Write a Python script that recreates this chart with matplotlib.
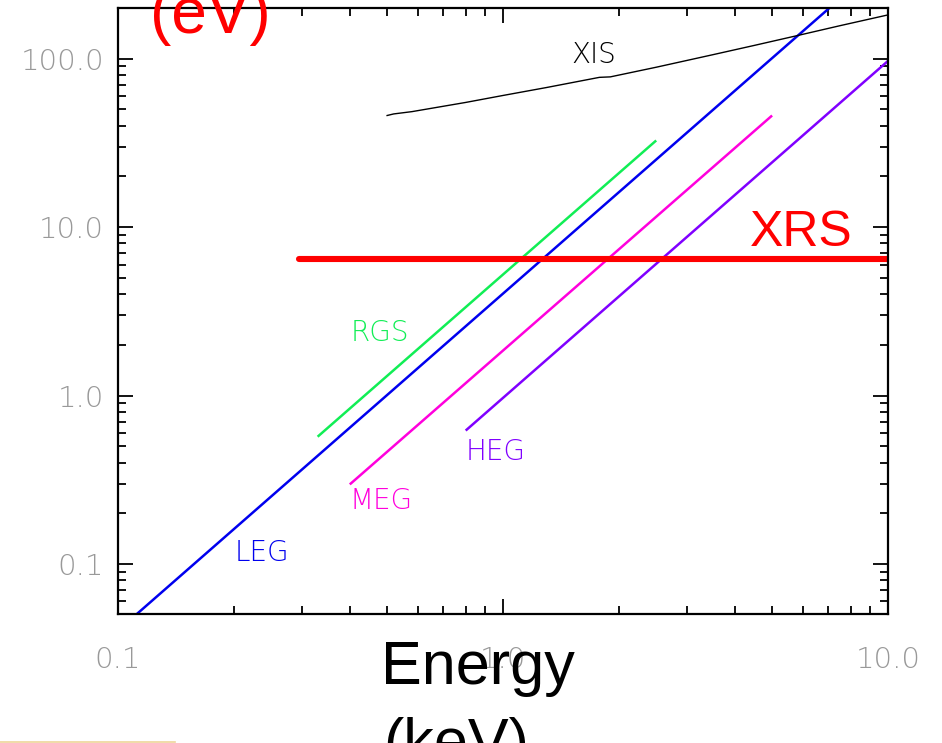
import matplotlib
matplotlib.use("Agg")
import matplotlib.pyplot as plt
from matplotlib.ticker import FixedLocator, NullFormatter, LogLocator
from matplotlib.lines import Line2D

# ---- data ----
leg_e = [0.10, 8.0]
leg_de = [0.0403, 258.0]
rgs_e = [0.33, 2.50]
rgs_de = [0.57, 32.7]
meg_e = [0.40, 5.0]
meg_de = [0.297, 46.0]
heg_e = [0.80, 10.0]
heg_de = [0.62, 97.0]
xis_e = [0.50, 0.52, 0.58, 0.80, 1.00, 1.30, 1.78, 1.90, 2.50, 3.50, 4.50, 5.80, 7.50, 10.0]
xis_de = [46.0, 47.0, 48.5, 55.0, 60.5, 67.5, 77.5, 78.0, 89.0, 105.5, 120.0, 137.0, 157.0, 182.0]
xrs_e = [0.295, 10.0]
xrs_de = [6.45, 6.45]

xtick_vals = [0.1, 1.0, 10.0]
xtick_labels = ["0.1", "1.0", "10.0"]
ytick_vals = [0.1, 1.0, 10.0, 100.0]
ytick_labels = ["0.1", "1.0", "10.0", "100.0"]

W, H = 942, 743
fig = plt.figure(figsize=(W / 100, H / 100), dpi=100)
ax = fig.add_axes([118 / W, 1 - 614 / H, (888 - 118) / W, (614 - 8) / H])
ax.set_xscale("log")
ax.set_yscale("log")
ax.set_xlim(0.1, 10.0)
ax.set_ylim(0.0505, 200.0)

ax.plot(leg_e, leg_de, color="#0000EE", lw=1.8, solid_capstyle="butt")
ax.plot(rgs_e, rgs_de, color="#11EE55", lw=1.8, solid_capstyle="butt")
ax.plot(meg_e, meg_de, color="#FF00DD", lw=1.8, solid_capstyle="butt")
ax.plot(heg_e, heg_de, color="#8000FF", lw=1.8, solid_capstyle="butt")
ax.plot(xis_e, xis_de, color="black", lw=1.0)
ax.plot(xrs_e, xrs_de, color="#FF0000", lw=4.4, solid_capstyle="round")

lab_font = dict(family=["DejaVu Sans"], fontweight="light", fontsize=20)
ax.text(0.618, 0.922, "XIS", transform=ax.transAxes, color="black", ha="center", va="center",
        **lab_font)
ax.text(0.340, 0.464, "RGS", transform=ax.transAxes, color="#11EE55", ha="center", va="center",
        **lab_font)
ax.text(0.342, 0.187, "MEG", transform=ax.transAxes, color="#FF00DD", ha="center", va="center",
        **lab_font)
ax.text(0.491, 0.267, "HEG", transform=ax.transAxes, color="#8000FF", ha="center", va="center",
        **lab_font)
ax.text(0.187, 0.101, "LEG", transform=ax.transAxes, color="#0000EE", ha="center", va="center",
        **lab_font)
ax.text(0.887, 0.628, "XRS", transform=ax.transAxes, color="#FF0000", ha="center", va="center",
        fontsize=36, family=["Liberation Sans"])

# ticks
ax.xaxis.set_major_locator(FixedLocator(xtick_vals))
ax.yaxis.set_major_locator(FixedLocator(ytick_vals))
ax.xaxis.set_minor_locator(LogLocator(base=10, subs=range(2, 10), numticks=20))
ax.yaxis.set_minor_locator(LogLocator(base=10, subs=range(2, 10), numticks=20))
ax.xaxis.set_minor_formatter(NullFormatter())
ax.yaxis.set_minor_formatter(NullFormatter())
ax.set_xticklabels(xtick_labels)
ax.set_yticklabels(ytick_labels)
ax.tick_params(which="both", direction="in", top=True, right=True, width=1.3,
               colors="black", labelcolor="#999999", labelsize=21)
ax.tick_params(which="major", length=11)
ax.tick_params(which="minor", length=6)
ax.tick_params(axis="x", pad=23)
ax.tick_params(axis="y", pad=10)
for lab in ax.get_xticklabels() + ax.get_yticklabels():
    lab.set_fontweight("light")
for s in ax.spines.values():
    s.set_linewidth(1.6)

# overlay texts
fig.text(210 / W, 1 - 33 / H, "(eV)", color="#FF0000", ha="center", va="baseline",
         fontsize=46, family=["Liberation Sans"])
fig.text(478 / W, 1 - 684 / H, "Energy", color="black", ha="center", va="baseline",
         fontsize=44, family=["Liberation Sans"])
fig.text(456 / W, 1 - 761 / H, "(keV)", color="black", ha="center", va="baseline",
         fontsize=44, family=["Liberation Sans"])

fig.add_artist(Line2D([0, 175 / W], [1 - 742 / H, 1 - 742 / H], transform=fig.transFigure,
                      color="#EED59A", lw=1.2))

fig.savefig("out.png", dpi=100)
